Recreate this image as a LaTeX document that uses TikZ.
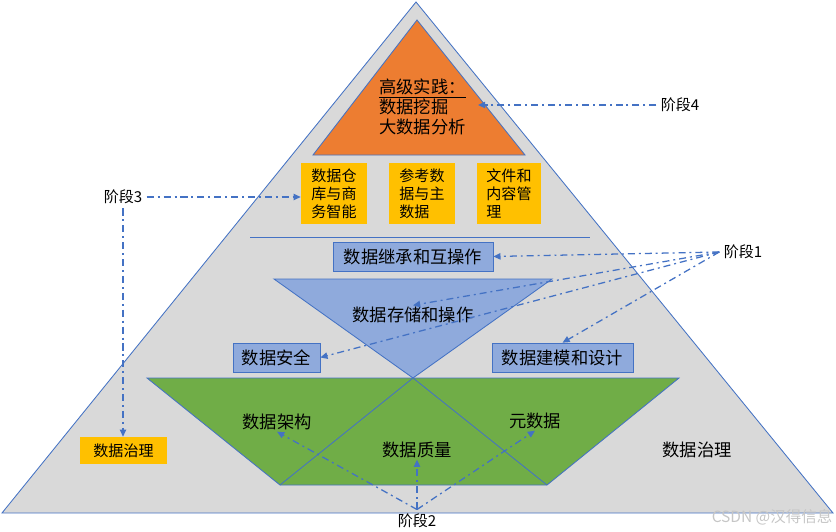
\documentclass[tikz,border=0pt]{standalone}
\usepackage{fontspec}
\setmainfont{Noto Sans CJK SC}
\usepackage{tikz}
\usetikzlibrary{arrows.meta}
\definecolor{edgeblue}{HTML}{4472C4}
\definecolor{layergray}{HTML}{D9D9D9}
\definecolor{practiceorange}{HTML}{ED7D31}
\definecolor{areayellow}{HTML}{FFC000}
\definecolor{opsblue}{HTML}{8FAADC}
\definecolor{basegreen}{HTML}{70AD47}
\tikzset{
    layer/.style={
        draw=edgeblue,
        line width=0.6pt
    },
    areabox/.style={
        fill=areayellow,
        align=left,
        font=\fontsize{10.7}{12.8}\selectfont,
        minimum width=1.65cm,
        minimum height=1.525cm,
        inner sep=0pt
    },
    opsbox/.style={
        draw=edgeblue,
        fill=opsblue,
        font=\fontsize{12.3}{14}\selectfont,
        minimum height=0.725cm,
        inner sep=0pt
    },
    areatext/.style={
        font=\fontsize{12.3}{14}\selectfont,
        inner sep=1pt
    },
    stagelabel/.style={
        font=\fontsize{10.7}{12}\selectfont,
        inner sep=3pt
    },
    stagelink/.style={
        -{Triangle[length=1.8mm, width=1.6mm]},
        draw=edgeblue,
        line width=0.9pt,
        dash pattern=on 5pt off 2.8pt on 1.4pt off 2.8pt
    }
}

\begin{document}
\begin{tikzpicture}[x=0.025cm, y=-0.025cm]
        \useasboundingbox (0,0) rectangle (836,532);

        \filldraw[layer, fill=layergray] (416,2) -- (833,513) -- (2,513) -- cycle;
        \filldraw[layer, fill=practiceorange] (417,20) -- (525,155) -- (313,155) -- cycle;
        \draw[layer] (250,237) -- (590,237);
        \filldraw[layer, fill=opsblue] (274,279) -- (552,279) -- (413,378) -- cycle;
        \filldraw[layer, fill=basegreen] (147,378) -- (679,378) -- (547,485) -- (280,485) -- cycle;
        \draw[layer] (280,485) -- (413,378) -- (547,485);

        \node[anchor=west, align=left, font=\fontsize{12.3}{14.2}\selectfont, inner sep=0pt] (practice) at (379,107) {
            \underline{高级实践：}\\
            数据挖掘\\
            大数据分析
        };
        \coordinate (minetip) at (478,105);

        \node[areabox] (warehouse) at (334,193.5) {数据仓\\库与商\\务智能};
        \node[areabox] (masterdata) at (422,193.5) {参考数\\据与主\\数据};
        \node[areabox, minimum width=1.6cm] (content) at (509,193.5) {文件和\\内容管\\理};

        \node[opsbox, minimum width=4cm] (interop) at (413,256.5) {数据继承和互操作};
        \node[areatext] (storage) at (413,315) {数据存储和操作};
        \node[opsbox, minimum width=2.175cm] (security) at (276.5,357.5) {数据安全};
        \node[opsbox, minimum width=3.525cm] (modeling) at (562.5,357.5) {数据建模和设计};

        \node[areatext] (architecture) at (277,422) {数据架构};
        \node[areatext] (quality) at (417,450) {数据质量};
        \node[areatext] (metadata) at (535,421) {元数据};
        \node[areatext] (governance) at (697,450) {数据治理};
        \node[fill=areayellow, font=\fontsize{10.7}{12}\selectfont, minimum width=2.175cm, minimum height=0.675cm, inner sep=0pt] (govbox) at (123.5,450.5) {数据治理};

        \node[stagelabel] (stage1) at (743,252) {阶段1};
        \node[stagelabel] (stage2) at (417,521) {阶段2};
        \node[stagelabel] (stage3) at (123,197) {阶段3};
        \node[stagelabel] (stage4) at (680,105) {阶段4};

        \node[font=\fontsize{11}{12}\selectfont, text=gray!45] (mark) at (772,517) {CSDN @汉得信息};

        \draw[stagelink] (stage4.west) -- (minetip);

        \draw[stagelink] (stage3.east) -- (stage3.east -| warehouse.west);
        \draw[stagelink] (stage3.south) -- (stage3.south |- govbox.north);

        \draw[stagelink] (stage1.west) -- (interop.east);
        \draw[stagelink] (stage1.west) -- (storage.north);
        \draw[stagelink] (stage1.west) -- (security.east);
        \draw[stagelink] (stage1.west) -- (modeling.north);

        \draw[stagelink] (stage2.north) -- (architecture.south);
        \draw[stagelink] (stage2.north) -- (quality.south);
        \draw[stagelink] (stage2.north) -- (metadata.south);
    \end{tikzpicture}
\end{document}
